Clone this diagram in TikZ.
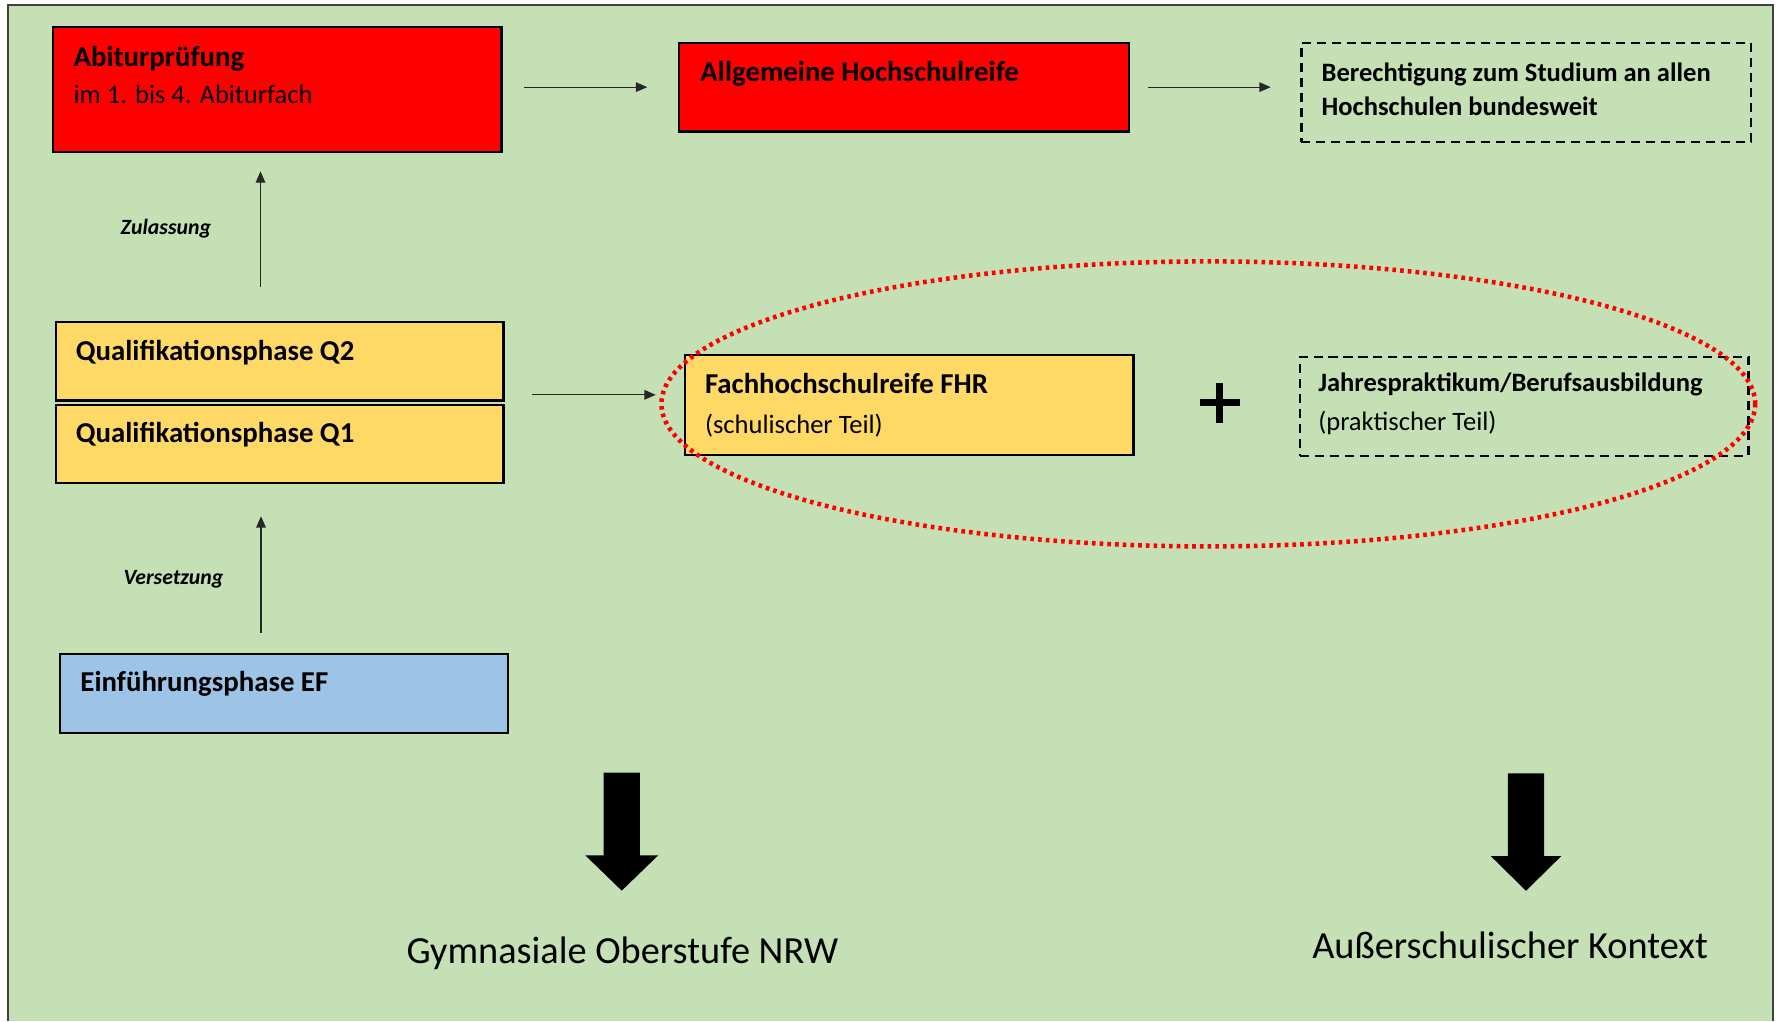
\documentclass[tikz,border=0pt]{standalone}
\usepackage{fontspec}
\setmainfont{Carlito}
\usetikzlibrary{arrows.meta,calc}
\definecolor{bggreen}{HTML}{C5E0B4}
\definecolor{boxred}{HTML}{FF0000}
\definecolor{boxyellow}{HTML}{FFD966}
\definecolor{boxblue}{HTML}{9DC3E6}
\definecolor{framegray}{HTML}{404040}
\definecolor{ovalred}{HTML}{FF0000}
\begin{document}
\begin{tikzpicture}[x=0.5pt,y=-0.5pt,
  box/.style={draw=black, line width=1pt, anchor=north west, inner sep=0pt, outer sep=0pt},
  dbox/.style={box, dash pattern=on 4pt off 2.6pt},
  ttl/.style={anchor=base west, font=\bfseries\fontsize{12.7}{15}\selectfont, inner sep=0pt},
  ttls/.style={anchor=base west, font=\bfseries\fontsize{11.7}{14}\selectfont, inner sep=0pt},
  sub/.style={anchor=base west, font=\fontsize{11.7}{14}\selectfont, inner sep=0pt},
  lbl/.style={anchor=base west, font=\bfseries\itshape\fontsize{9.6}{11}\selectfont, inner sep=0pt},
  arr/.style={-{Triangle[length=5pt,width=4.2pt]}, line width=0.55pt, draw=black!85},
  big/.style={anchor=base, font=\fontsize{16.9}{20}\selectfont, inner sep=0pt},
  bigarrow/.style={fill=black},
]
\useasboundingbox (0,0) rectangle (1568,900);
\fill[white] (0,0) rectangle (1568,900);
\fill[bggreen] (7,4.5) rectangle (1563,900);
\draw[framegray, line width=0.8pt] (7,900) -- (7,4.5) -- (1563,4.5) -- (1563,900);

% boxes
\node[box, fill=boxred, minimum width=197.75pt, minimum height=55pt] (abi) at (46.5,24) {};
\node[box, fill=boxred, minimum width=198.15pt, minimum height=39.2pt] (ahr) at (598.5,37.6) {};
\node[dbox, minimum width=198pt, minimum height=43.7pt] (ber) at (1147,37.6) {};
\node[box, fill=boxyellow, minimum width=197.3pt, minimum height=34.75pt] (q2) at (49.2,283.5) {};
\node[box, fill=boxyellow, minimum width=197.3pt, minimum height=34.2pt] (q1) at (49.2,357) {};
\node[box, fill=boxblue, minimum width=197.35pt, minimum height=34.65pt] (ef) at (53.1,576.5) {};
\node[box, fill=boxyellow, minimum width=197.6pt, minimum height=44pt] (fhr) at (603.8,313) {};
\node[dbox, minimum width=197.6pt, minimum height=43.75pt] (jp) at (1145.8,314.4) {};

% texts
\node[ttl] (abit) at (64.5,59) {Abiturprüfung};
\node[sub] (abis) at (64.5,91) {im 1. bis 4. Abiturfach};
\node[ttl] (ahrt) at (617,71.4) {Allgemeine Hochschulreife};
\node[ttls] (bert1) at (1164.5,72) {Berechtigung zum Studium an allen};
\node[ttls] (bert2) at (1164.5,101.4) {Hochschulen bundesweit};
\node[ttl] (q2t) at (66.5,318) {Qualifikationsphase Q2};
\node[ttl] (q1t) at (66.5,390) {Qualifikationsphase Q1};
\node[ttl] (eft) at (70.5,609.6) {Einführungsphase EF};
\node[ttl] (fhrt) at (621,347) {Fachhochschulreife FHR};
\node[sub] (fhrs) at (621,382) {(schulischer Teil)};
\node[ttls] (jpt) at (1161.5,345) {Jahrespraktikum/Berufsausbildung};
\node[sub] (jps) at (1161.5,379) {(praktischer Teil)};
\node[lbl] (zul) at (106,207) {Zulassung};
\node[lbl] (ver) at (108.5,515) {Versetzung};

% connectors
\draw[arr, shorten <=10pt, shorten >=14pt] (abi.east |- ahr.west) -- (ahr.west);
\draw[arr, shorten <=8.4pt, shorten >=13.5pt] (ahr.east) -- (ahr.east -| ber.west);
\coordinate (qa) at ([yshift=2.5pt]q2.south east);
\draw[arr, shorten <=12.6pt, shorten >=12.9pt] (qa) -- (qa -| fhr.west);
\coordinate (za) at ([xshift=-8.45pt]q2.north);
\draw[arr, shorten <=15.25pt, shorten >=8.5pt] (za) -- (za |- abi.south);
\coordinate (va) at ([xshift=-10.2pt]ef.north);
\draw[arr, shorten <=9.25pt, shorten >=14.8pt] (va) -- (va |- q1.south);

% red dotted oval
\draw[ovalred, line width=2pt, dash pattern=on 1.6pt off 1.8pt] (1065,356) ellipse [x radius=241pt, y radius=62.8pt];

% plus sign
\coordinate (plus) at (1075,355);
\draw[line width=3.2pt] ([xshift=-8.75pt]plus) -- ([xshift=8.75pt]plus) ([yshift=-8.75pt]plus) -- ([yshift=8.75pt]plus);

% bottom labels and big arrows
\node[big] (gym) at (548.5,849) {Gymnasiale Oberstufe NRW};
\node[big] (aus) at (1331,845) {Außerschulischer Kontext};
\coordinate (ga) at (548,681);
\coordinate (aa) at (1345,681.6);
\fill[bigarrow] (ga) ++(-16,0) -- ++(32,0) -- ++(0,73) -- ++(16,0) -- ++(-32,31) -- ++(-32,-31) -- ++(16,0) -- cycle;
\fill[bigarrow] (aa) ++(-16,0) -- ++(32,0) -- ++(0,73) -- ++(15,0) -- ++(-31,30.5) -- ++(-31,-30.5) -- ++(15,0) -- cycle;
\end{tikzpicture}
\end{document}
